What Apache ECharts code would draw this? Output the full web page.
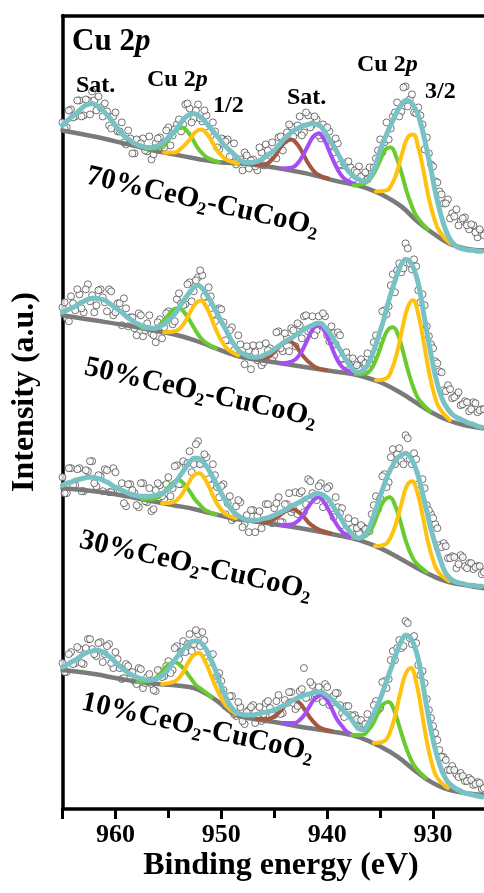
<!DOCTYPE html>
<html><head><meta charset="utf-8">
<script src="https://cdn.jsdelivr.net/npm/echarts@6/dist/echarts.min.js"></script>
<style>html,body{margin:0;padding:0;background:#fff}#c{width:484px;height:893px}</style>
</head><body><div id="c"></div>
<script>
// ---- data (intensity in arbitrary offset units, 4 stacked spectra) ----
const energy = [
965.0,964.6,964.2,963.8,963.4,963.0,962.6,962.2,961.8,961.4,
961.0,960.6,960.2,959.8,959.4,959.0,958.6,958.2,957.8,957.4,
957.0,956.6,956.2,955.8,955.4,955.0,954.6,954.2,953.8,953.4,
953.0,952.6,952.2,951.8,951.4,951.0,950.6,950.2,949.8,949.4,
949.0,948.6,948.2,947.8,947.4,947.0,946.6,946.2,945.8,945.4,
945.0,944.6,944.2,943.8,943.4,943.0,942.6,942.2,941.8,941.4,
941.0,940.6,940.2,939.8,939.4,939.0,938.6,938.2,937.8,937.4,
937.0,936.6,936.2,935.8,935.4,935.0,934.6,934.2,933.8,933.4,
933.0,932.6,932.2,931.8,931.4,931.0,930.6,930.2,929.8,929.4,
929.0,928.6,928.2,927.8,927.4,927.0,926.6,926.2,925.8,925.4];
const energy2 = [
964.8,964.4,964.0,963.6,963.2,962.8,962.4,962.0,961.6,961.2,
960.8,960.4,960.0,959.6,959.2,958.8,958.4,958.0,957.6,957.2,
956.8,956.4,956.0,955.6,955.2,954.8,954.4,954.0,953.6,953.2,
952.8,952.4,952.0,951.6,951.2,950.8,950.4,950.0,949.6,949.2,
948.8,948.4,948.0,947.6,947.2,946.8,946.4,946.0,945.6,945.2,
944.8,944.4,944.0,943.6,943.2,942.8,942.4,942.0,941.6,941.2,
940.8,940.4,940.0,939.6,939.2,938.8,938.4,938.0,937.6,937.2,
936.8,936.4,936.0,935.6,935.2,934.8,934.4,934.0,933.6,933.2,
932.8,932.4,932.0,931.6,931.2,930.8,930.4,930.0,929.6,929.2,
928.8,928.4,928.0,927.6,927.2,926.8,926.4,926.0,925.6,925.2];

// 70%CeO2-CuCoO2
const raw70 = [
687,682,700,693,709,694,709,718,699,702,706,684,693,678,687,665,671,656,669,671,
658,650,666,672,662,682,674,685,678,705,701,691,705,688,694,674,678,660,670,670,
653,645,650,657,641,650,639,657,665,654,654,672,659,677,683,677,693,677,694,685,
690,671,680,678,657,666,644,643,642,639,643,632,630,638,651,670,667,670,693,707,
698,723,710,697,702,685,672,645,628,618,606,610,596,600,588,592,580,584,572,576];
const raw70b = [
681,699,692,709,693,710,695,709,713,693,698,681,697,678,667,679,656,670,666,659,
673,655,671,664,679,664,680,690,685,706,687,699,691,699,677,687,662,671,668,653,
666,648,639,654,649,643,662,644,659,667,651,673,669,685,673,684,674,697,682,693,
674,685,682,664,671,645,646,648,629,637,633,637,642,642,659,657,687,681,697,693,
722,703,715,696,694,660,656,643,627,615,606,591,593,584,591,584,585,577,580,574];
const env70 = [
684,688,692,695,699,703,705,706,704,701,697,692,687,681,676,672,669,666,664,663,
662,662,663,665,668,672,676,681,687,692,695,696,694,691,686,681,676,671,665,661,
657,653,649,647,647,647,648,650,653,656,659,664,669,673,677,680,682,684,685,686,
685,683,677,670,663,656,648,641,636,632,630,628,629,635,645,659,670,680,689,698,
705,709,708,703,694,679,660,640,618,600,585,574,567,563,561,560,559,559,558,558];
const bg70 = [[965,679],[962,673],[960,668],[958,663],[956.5,659],[955,656],[953.5,653],[952,650],[950,647],[948,646],[945,642],[942,636],[939,628],[936.5,622],[934.5,613],[933,603],[931.5,588],[930,576],[928.5,566],[927,561],[925.3,559]];
const g12_70 = [[957.2,661],[956.2,661],[955.7,663],[955.2,667],[954.7,674],[954.2,680],[953.7,682],[953.2,678],[952.7,670],[952.2,661],[951.7,655],[951.2,651],[950.2,647]];
const y12_70 = [[955.4,657],[954.4,657],[953.9,660],[953.4,665],[952.9,671],[952.4,678],[951.9,680],[951.4,676],[950.9,668],[950.4,659],[949.9,653],[949.4,649],[948.4,646]];
const br_70 = [[946.9,645],[945.9,645],[945.4,648],[944.9,654],[944.4,662],[943.9,668],[943.4,670],[942.9,666],[942.4,658],[941.9,648],[941.4,640],[940.9,635],[939.9,631]];
const pu_70 = [[944.3,641],[943.3,642],[942.8,646],[942.3,654],[941.8,664],[941.3,673],[940.8,676],[940.3,670],[939.8,658],[939.3,646],[938.8,636],[938.3,630],[937.3,625]];
const g32_70 = [[937.5,624],[936.5,626],[936.0,630],[935.5,638],[935.0,649],[934.5,660],[934.0,662],[933.5,653],[933.0,637],[932.5,618],[932.0,603],[931.5,592],[930.5,580]];
const y32_70 = [[935.4,618],[934.4,619],[933.9,625],[933.4,638],[932.9,657],[932.4,672],[931.9,675],[931.4,662],[930.9,638],[930.4,611],[929.9,591],[929.4,578],[928.4,566]];

// 50%CeO2-CuCoO2
const raw50 = [
502,491,513,499,515,497,525,514,504,520,507,520,494,506,484,501,492,481,496,473,
486,476,467,490,482,498,485,510,506,505,527,518,532,534,506,513,488,501,487,469,
482,457,465,445,459,464,449,444,466,461,454,478,458,471,481,463,484,493,478,493,
479,484,493,468,476,477,451,457,447,448,440,447,456,450,474,468,499,503,535,539,
537,566,546,550,519,515,483,465,448,438,419,424,411,414,404,408,398,407,397,400];
const raw50b = [
507,488,506,520,501,520,508,497,519,512,498,518,497,506,511,483,492,474,494,479,
494,474,487,471,496,493,488,516,504,525,508,529,539,513,522,495,499,500,469,479,
459,474,454,463,440,457,464,447,459,449,477,461,476,458,479,486,471,494,480,474,
493,496,474,483,465,474,444,451,451,444,450,446,446,467,463,498,495,524,517,546,
541,561,540,543,507,504,473,461,446,437,418,420,412,417,405,407,400,406,399,400];
const env50 = [
497,499,501,503,506,508,510,511,511,510,509,506,503,500,497,493,490,487,485,483,
482,481,481,483,485,489,493,498,505,511,517,522,524,521,515,508,500,492,484,476,
468,462,457,455,453,452,452,453,455,457,460,463,466,469,471,474,477,480,482,484,
486,486,482,477,470,463,456,449,443,438,437,439,444,453,465,478,492,508,522,535,
545,550,548,540,526,503,478,455,434,418,407,400,395,392,390,388,386,385,383,382];
const bg50 = [[965,494],[962,489],[959,484],[956.5,479],[954.5,475],[952.5,469],[951,463],[949.5,457],[948,452],[945,447],[942,442],[939.5,438],[937.5,435],[935,427],[933,416],[931.5,406],[930,396],[928.6,389],[927,384],[925.3,381]];
const g12_50 = [[957.5,481],[956.5,481],[956.0,483],[955.5,488],[955.0,494],[954.5,500],[954.0,501],[953.5,497],[953.0,489],[952.5,480],[952.0,472],[951.5,467],[950.5,461]];
const y12_50 = [[955.4,477],[954.4,478],[953.9,481],[953.4,488],[952.9,498],[952.4,506],[951.9,509],[951.4,502],[950.9,490],[950.4,477],[949.9,467],[949.4,460],[948.4,454]];
const br_50 = [[947.1,451],[946.1,451],[945.6,452],[945.1,456],[944.6,462],[944.1,466],[943.6,468],[943.1,465],[942.6,458],[942.1,451],[941.6,446],[941.1,442],[940.1,439]];
const pu_50 = [[944.3,446],[943.3,448],[942.8,452],[942.3,460],[941.8,471],[941.3,481],[940.8,484],[940.3,479],[939.8,468],[939.3,455],[938.8,445],[938.3,440],[937.3,435]];
const g32_50 = [[937.3,435],[936.3,436],[935.8,441],[935.3,452],[934.8,467],[934.3,479],[933.8,482],[933.3,474],[932.8,456],[932.3,436],[931.8,420],[931.3,409],[930.3,398]];
const y32_50 = [[935.4,429],[934.4,431],[933.9,440],[933.4,457],[932.9,481],[932.4,502],[931.9,509],[931.4,495],[930.9,468],[930.4,438],[929.9,415],[929.4,401],[928.4,389]];

// 30%CeO2-CuCoO2
const raw30 = [
332,316,341,324,341,318,338,348,323,333,340,317,341,317,326,303,325,316,302,326,
307,298,319,324,310,332,321,344,325,345,358,345,368,346,352,324,334,312,325,306,
289,303,307,285,277,299,293,281,305,289,301,312,287,305,297,317,316,297,330,316,
309,326,309,323,292,302,301,274,280,288,276,282,280,295,313,311,335,327,360,355,
348,374,350,356,325,330,304,295,285,264,266,251,253,241,254,243,246,240,243,235];
const raw30b = [
316,341,324,340,318,339,348,326,334,318,339,317,337,318,306,325,319,304,326,308,
321,300,326,313,325,313,343,325,348,346,337,365,345,355,330,345,322,323,295,313,
291,309,282,294,299,277,298,288,305,286,306,287,305,316,300,295,318,305,328,313,
323,302,321,301,312,296,278,291,281,281,284,280,278,304,300,333,322,352,345,361,
345,371,345,350,319,321,299,291,281,262,263,251,252,245,252,241,246,242,243,237];
const env30 = [
324,326,327,329,330,331,332,332,331,330,328,326,323,321,319,317,315,314,313,313,
313,313,314,315,317,320,324,329,335,341,347,351,351,348,343,336,328,320,312,305,
299,295,292,290,289,289,289,290,291,292,294,296,298,300,303,305,307,310,312,314,
316,315,313,309,302,296,289,282,277,273,271,273,278,288,300,313,325,336,344,351,
354,356,353,345,333,316,298,280,265,252,240,233,229,227,226,225,224,224,223,223];
const bg30 = [[965,321],[962,318],[960,315],[957,309],[954.5,304],[952.5,300],[951,296],[949,291],[947,288],[945,285],[942,280],[939,274],[937,269],[935,261],[933,250],[931.5,241],[930,233],[928.5,227],[927,224],[925.3,221]];
const g12_30 = [[957.5,310],[956.5,310],[956.0,312],[955.5,316],[955.0,322],[954.5,327],[954.0,329],[953.5,325],[953.0,318],[952.5,310],[952.0,304],[951.5,299],[950.5,295]];
const y12_30 = [[955.6,306],[954.6,307],[954.1,310],[953.6,317],[953.1,326],[952.6,334],[952.1,336],[951.6,331],[951.1,321],[950.6,309],[950.1,301],[949.6,295],[948.6,291]];
const br_30 = [[946.7,288],[945.7,287],[945.2,289],[944.7,292],[944.2,296],[943.7,299],[943.2,300],[942.7,297],[942.2,292],[941.7,286],[941.2,282],[940.7,279],[939.7,276]];
const pu_30 = [[944.3,284],[943.3,285],[942.8,288],[942.3,294],[941.8,302],[941.3,309],[940.8,312],[940.3,307],[939.8,298],[939.3,288],[938.8,280],[938.3,275],[937.3,270]];
const g32_30 = [[937.6,271],[936.6,272],[936.1,276],[935.6,285],[935.1,299],[934.6,309],[934.1,312],[933.6,304],[933.1,288],[932.6,269],[932.1,255],[931.6,246],[930.6,237]];
const y32_30 = [[935.5,263],[934.5,265],[934.0,272],[933.5,286],[933.0,305],[932.5,323],[932.0,328],[931.5,317],[931.0,294],[930.5,268],[930.0,249],[929.5,237],[928.5,228]];

// 10%CeO2-CuCoO2
const raw10 = [
146,137,157,146,160,145,170,160,153,167,155,165,141,150,130,145,136,128,141,121,
132,125,118,138,133,148,139,163,157,157,175,165,175,177,151,154,130,136,119,102,
113,93,102,85,99,104,93,88,106,101,94,114,96,106,117,100,118,141,112,124,
111,116,125,104,113,116,96,103,94,94,82,85,95,89,108,101,128,130,158,161,
161,188,171,173,144,138,110,91,76,59,52,39,43,35,36,28,31,24,27,20];
const raw10b = [
137,155,145,162,146,161,170,155,166,147,163,146,157,141,131,143,137,125,140,126,
135,119,139,132,143,136,161,150,168,165,158,179,163,169,147,155,133,128,103,113,
95,107,88,97,102,86,102,95,108,94,108,95,109,117,106,103,120,111,127,116,
122,107,122,106,116,104,92,103,93,90,89,85,84,104,99,127,121,149,149,169,
163,186,165,166,134,126,99,83,69,52,49,39,39,32,33,28,29,25,26,21];
const env10 = [
142,144,147,149,152,155,157,158,159,158,156,153,149,145,141,138,135,133,131,130,
129,129,130,132,135,140,146,152,157,162,166,168,168,165,159,150,140,128,117,108,
101,97,95,94,94,94,95,96,97,98,99,101,103,105,108,110,112,114,115,116,
117,117,115,112,108,104,100,96,91,85,80,79,84,91,100,110,122,134,146,158,
168,174,172,164,150,127,102,79,60,45,34,27,23,20,18,16,15,14,13,12];
const bg10 = [[965,139],[962,135],[959.5,130],[957,126],[954.6,124],[953,122],[952.1,119],[950.5,109],[949,96],[948,92],[945,87],[941.8,81],[938.7,76],[937,72],[934.9,62],[933.3,52],[931.8,39],[930.5,29],[929,21],[927,16],[925.3,14]];
const g12_10 = [[957.9,127],[956.9,128],[956.4,130],[955.9,134],[955.4,140],[954.9,145],[954.4,147],[953.9,144],[953.4,138],[952.9,131],[952.4,124],[951.9,120],[950.9,112]];
const y12_10 = [[955.6,125],[954.6,127],[954.1,130],[953.6,137],[953.1,147],[952.6,154],[952.1,156],[951.6,149],[951.1,137],[950.6,124],[950.1,113],[949.6,104],[948.6,95]];
const br_10 = [[946.6,90],[945.6,90],[945.1,92],[944.6,96],[944.1,102],[943.6,108],[943.1,109],[942.6,106],[942.1,99],[941.6,91],[941.1,85],[940.6,81],[939.6,78]];
const pu_10 = [[944.1,86],[943.1,86],[942.6,89],[942.1,95],[941.6,104],[941.1,111],[940.6,114],[940.1,110],[939.6,101],[939.1,90],[938.6,83],[938.1,77],[937.1,72]];
const g32_10 = [[937.7,74],[936.7,74],[936.2,78],[935.7,85],[935.2,96],[934.7,105],[934.2,107],[933.7,99],[933.2,83],[932.7,66],[932.2,52],[931.7,42],[930.7,31]];
const y32_10 = [[935.6,66],[934.6,68],[934.1,76],[933.6,93],[933.1,116],[932.6,135],[932.1,141],[931.6,127],[931.1,99],[930.6,68],[930.1,45],[929.6,31],[928.6,21]];

const xTicks = [930, 940, 950, 960];

// ---- chart ----
const FONT = '"Liberation Serif","Times New Roman",serif';
const COL = {raw:'#3c3c3c', bg:'#7a7a7a', env:'#78c2c6', green:'#6acb2f', yellow:'#ffc20e', brown:'#a5573f', purple:'#a44ef3'};
const spectra = [
  {raw:raw70, raw2:raw70b, env:env70, bg:bg70, comps:[[g12_70,'green'],[y12_70,'yellow'],[br_70,'brown'],[pu_70,'purple'],[g32_70,'green'],[y32_70,'yellow']]},
  {raw:raw50, raw2:raw50b, env:env50, bg:bg50, comps:[[g12_50,'green'],[y12_50,'yellow'],[br_50,'brown'],[pu_50,'purple'],[g32_50,'green'],[y32_50,'yellow']]},
  {raw:raw30, raw2:raw30b, env:env30, bg:bg30, comps:[[g12_30,'green'],[y12_30,'yellow'],[br_30,'brown'],[pu_30,'purple'],[g32_30,'green'],[y32_30,'yellow']]},
  {raw:raw10, raw2:raw10b, env:env10, bg:bg10, comps:[[g12_10,'green'],[y12_10,'yellow'],[br_10,'brown'],[pu_10,'purple'],[g32_10,'green'],[y32_10,'yellow']]}
];
const series = [];
const line = (data, color, width, z, smooth) => ({type:'line', data, smooth, symbol:'none', showSymbol:false, silent:true, z,
  lineStyle:{color, width, cap:'round', join:'round'}, animation:false});
const dots = (data) => ({type:'scatter', data, symbol:'circle', symbolSize:7, silent:true, z:1,
  itemStyle:{color:'#ffffff', borderColor:COL.raw, borderWidth:0.9}, animation:false});
spectra.forEach(s => {
  series.push(dots(energy.map((e,i)=>[e, s.raw[i]])));
  series.push(dots(energy2.map((e,i)=>[e, s.raw2[i]])));
});
spectra.forEach(s => {
  series.push(line(s.bg, COL.bg, 4.5, 2, 0.4));
  s.comps.forEach(c => series.push(line(c[0], COL[c[1]], 4, 3, 0.45)));
  series.push(line(energy.map((e,i)=>[e, s.env[i]]), COL.env, 5, 4, 0.3));
});

const bold = (size) => ({fontFamily:FONT, fontWeight:'bold', fontSize:size, fill:'#000'});
const sampleLabel = (num, x, y) => ({type:'text', x, y, rotation:-0.22, z:10, silent:true,
  style:Object.assign(bold(29), {text: num + '%CeO{s|2}-CuCoO{s|2}', textAlign:'left', textVerticalAlign:'middle', lineHeight:34,
    rich:{s:{fontFamily:FONT, fontWeight:'bold', fontSize:18, lineHeight:18, verticalAlign:'bottom', fill:'#000'}}})});
const peakLabel = (text, x, y, size) => ({type:'text', x, y, z:10, silent:true,
  style:Object.assign(bold(size), {text, textAlign:'left', textVerticalAlign:'middle',
    rich:{i:{fontFamily:FONT, fontWeight:'bold', fontStyle:'italic', fontSize:size, fill:'#000'}}})});

const chart = echarts.init(document.getElementById('c'), null, {renderer:'canvas'});
chart.setOption({
  animation:false,
  backgroundColor:'#ffffff',
  grid:{left:62.5, right:-55, top:15.5, bottom:84, containLabel:false, outerBoundsMode:'none'},
  xAxis:[{type:'value', min:920, max:965, interval:10, inverse:true, position:'bottom',
    axisLine:{onZero:false, lineStyle:{color:'#000', width:3.5}},
    axisTick:{length:10, lineStyle:{color:'#000', width:3}},
    minorTick:{show:true, splitNumber:2, length:9, lineStyle:{color:'#000', width:3}},
    axisLabel:{color:'#000', fontFamily:FONT, fontWeight:'bold', fontSize:26, margin:13, showMaxLabel:false, showMinLabel:false,
      formatter:v => xTicks.indexOf(v) >= 0 ? String(v) : ''},
    splitLine:{show:false}},
   {type:'value', min:920, max:965, inverse:true, position:'top',
    axisLine:{onZero:false, lineStyle:{color:'#000', width:3.5}}, axisTick:{show:false}, axisLabel:{show:false}, splitLine:{show:false}}],
  yAxis:{type:'value', min:0, max:794, axisLine:{show:true, onZero:false, lineStyle:{color:'#000', width:3.5}},
    axisTick:{show:false}, axisLabel:{show:false}, splitLine:{show:false}},
  series,
  graphic:[
    peakLabel('Cu 2{i|p}', 72, 42, 31),
    peakLabel('Sat.', 76, 86, 24),
    peakLabel('Cu 2{i|p}', 147, 80, 24),
    peakLabel('1/2', 213, 106, 24),
    peakLabel('Sat.', 287, 98, 24),
    peakLabel('Cu 2{i|p}', 357, 65, 24),
    peakLabel('3/2', 425, 92, 24),
    sampleLabel('70', 87, 176),
    sampleLabel('50', 85, 367),
    sampleLabel('30', 80, 540),
    sampleLabel('10', 82, 702),
    {type:'text', x:25, y:392, rotation:Math.PI/2, silent:true, style:Object.assign(bold(32), {text:'Intensity (a.u.)', textAlign:'center', textVerticalAlign:'middle'})},
    {type:'text', x:281, y:866, silent:true, style:Object.assign(bold(32), {text:'Binding energy (eV)', textAlign:'center', textVerticalAlign:'middle'})}
  ]
});
</script></body></html>
